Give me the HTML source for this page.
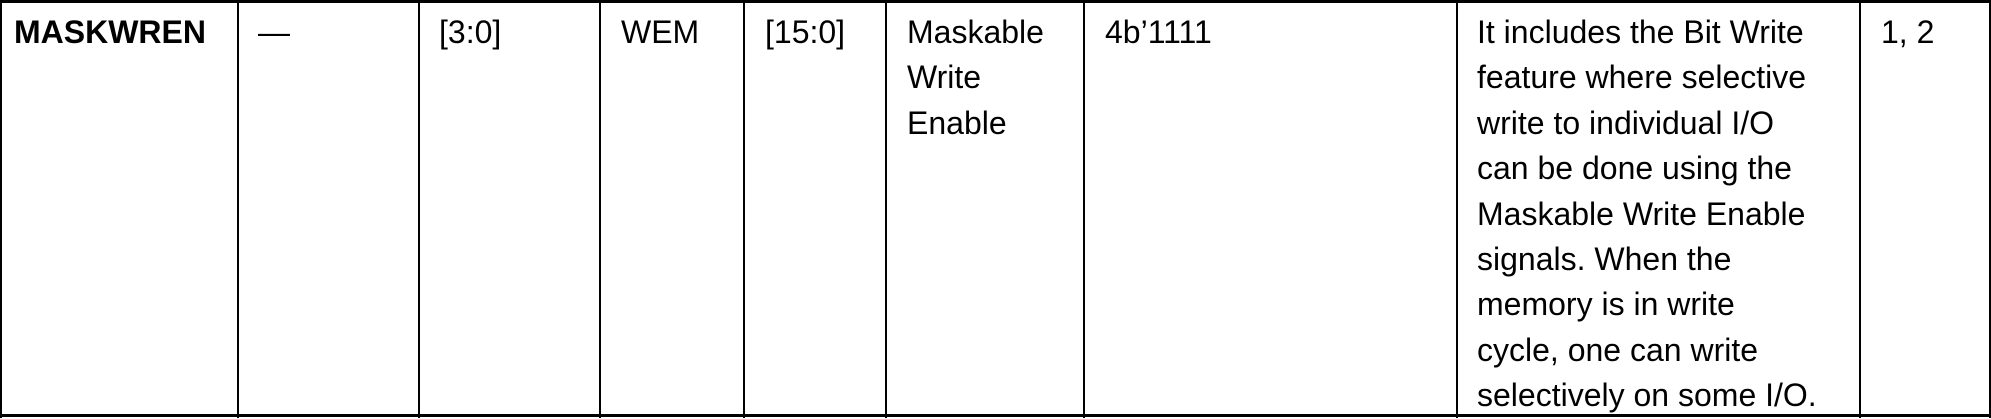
<!DOCTYPE html>
<html><head><style>
body{margin:0;width:1991px;height:418px;background:#fff;position:relative;overflow:hidden;font-family:"Liberation Sans",sans-serif;color:#000}
.v{position:absolute;top:0;width:2px;height:418px;background:#000}
.h{position:absolute;left:0;width:1991px;height:3px;background:#000}
.t{position:absolute;top:10px;font-size:32px;line-height:45.4px;white-space:nowrap}
</style></head><body>
<div class="h" style="top:0"></div>
<div class="h" style="top:414px"></div>
<div class="v" style="left:0"></div>
<div class="v" style="left:237px"></div>
<div class="v" style="left:418px"></div>
<div class="v" style="left:599px"></div>
<div class="v" style="left:743px"></div>
<div class="v" style="left:885px"></div>
<div class="v" style="left:1083px"></div>
<div class="v" style="left:1456px"></div>
<div class="v" style="left:1859px"></div>
<div class="v" style="left:1989px"></div>
<div class="t" style="left:14px;font-weight:bold">MASKWREN</div>
<div class="t" style="left:258px">—</div>
<div class="t" style="left:439px">[3:0]</div>
<div class="t" style="left:621px">WEM</div>
<div class="t" style="left:765px">[15:0]</div>
<div class="t" style="left:907px">Maskable<br>Write<br>Enable</div>
<div class="t" style="left:1105px">4b’1111</div>
<div class="t" style="left:1477px">It includes the Bit Write<br>feature where selective<br>write to individual I/O<br>can be done using the<br>Maskable Write Enable<br>signals. When the<br>memory is in write<br>cycle, one can write<br>selectively on some I/O.</div>
<div class="t" style="left:1881px">1, 2</div>
</body></html>
